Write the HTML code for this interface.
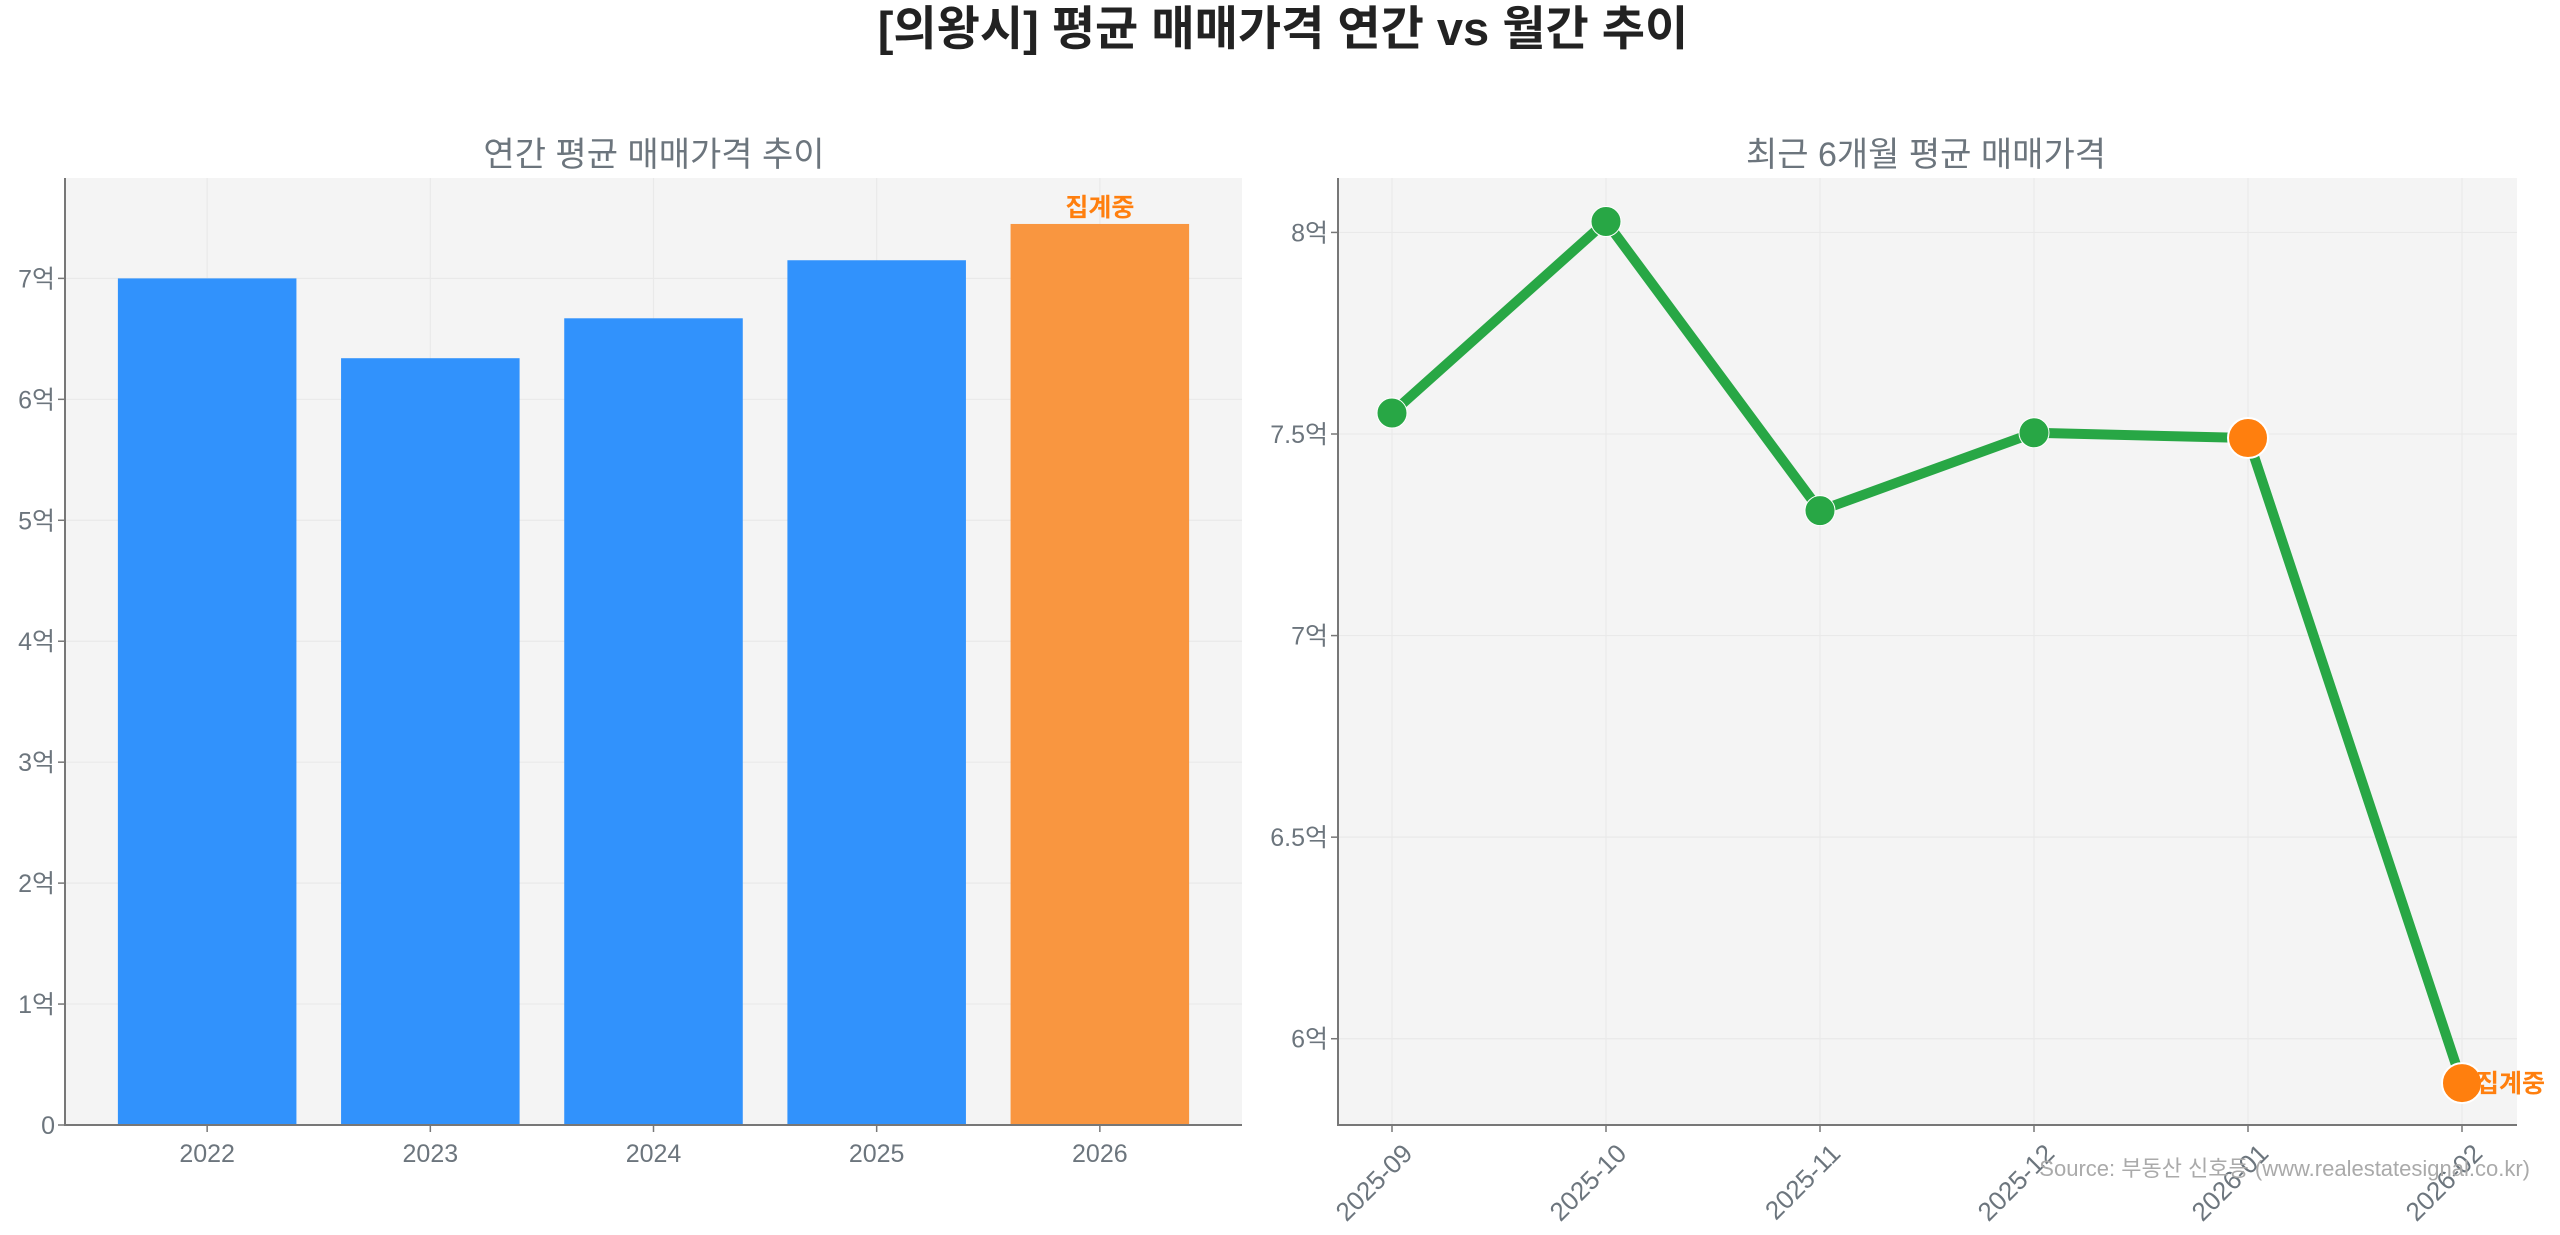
<!DOCTYPE html>
<html><head><meta charset="utf-8"><style>
html,body{margin:0;padding:0;background:#fff;}
svg{display:block;font-family:"Liberation Sans","Noto Sans CJK KR",sans-serif;}
</style></head><body>
<svg id="c" width="2560" height="1235" xmlns="http://www.w3.org/2000/svg">
<text x="1283" y="45" text-anchor="middle" font-size="47" font-weight="bold" fill="#222">[의왕시] 평균 매매가격 연간 vs 월간 추이</text>
<text x="654" y="166" text-anchor="middle" font-size="34" fill="#6c757d">연간 평균 매매가격 추이</text>
<text x="1926" y="166" text-anchor="middle" font-size="34" fill="#6c757d">최근 6개월 평균 매매가격</text>
<g id="left"></g>
<g id="right"></g>
<text x="2530" y="1176" text-anchor="end" font-size="22" fill="#aaa">Source: 부동산 신호등 (www.realestatesignal.co.kr)</text>
</svg>
<script>
const years = ['2022','2023','2024','2025','2026'];
const annualValues = [7.0, 6.34, 6.67, 7.15, 7.45];
const annualTicks = [0,1,2,3,4,5,6,7];
const months = ['2025-09','2025-10','2025-11','2025-12','2026-01','2026-02'];
const monthlyValues = [7.552, 8.027, 7.31, 7.503, 7.49, 5.89];
const monthlyTicks = [6, 6.5, 7, 7.5, 8];
const monthlyTickLabels = ['6억','6.5억','7억','7.5억','8억'];

const NS='http://www.w3.org/2000/svg';
const GRID='#e9e9e9';
function mk(tag, attrs, parent, text){
  const e=document.createElementNS(NS,tag);
  for(const k in attrs) e.setAttribute(k,attrs[k]);
  if(text!==undefined) e.textContent=text;
  parent.appendChild(e); return e;
}
(function(){
  const g=document.getElementById('left');
  const L=65,R=1242,T=178,B=1125;
  const x=i=>L+(i+0.637)/5.274*(R-L);
  const y=v=>B-v/7.83*(B-T);
  const bg=mk('rect',{x:L,y:T,width:R-L,height:B-T,fill:'#f4f4f4'},g);
  
  
  annualTicks.forEach(t=>{
    const gl=mk('line',{x1:L,x2:R,y1:y(t),y2:y(t),stroke:GRID,'stroke-width':1.2},g);
    
    
    const tk=mk('line',{x1:L-7,x2:L,y1:y(t),y2:y(t),stroke:'#777','stroke-width':1.5},g);
    
    
    const lb=mk('text',{x:L-10,y:y(t)+9,'text-anchor':'end','font-size':25,fill:'#6c757d'},g,t===0?'0':t+'억');
    
    
  });
  years.forEach((yr,i)=>{
    const gl=mk('line',{x1:x(i),x2:x(i),y1:T,y2:B,stroke:GRID,'stroke-width':1.2},g);
    
    
  });
  const bw=0.8/5.274*(R-L);
  annualValues.forEach((v,i)=>{
    const last=i===annualValues.length-1;
    const b=mk('rect',{x:x(i)-bw/2,y:y(v),width:bw,height:B-y(v),fill:last?'#f99640':'#3192fc'},g);
    
    
    if(last){
      const a=mk('text',{x:x(i),y:y(v)-8,'text-anchor':'middle','font-size':25,'font-weight':'bold',fill:'#ff7f0e'},g,'집계중');
      
      
    }
    const tk=mk('line',{x1:x(i),x2:x(i),y1:B,y2:B+7,stroke:'#777','stroke-width':1.5},g);
    
    
    const lb=mk('text',{x:x(i),y:B+37,'text-anchor':'middle','font-size':25,fill:'#6c757d'},g,years[i]);
    
    
  });
  const ax=mk('path',{d:`M${L},${T}V${B}H${R}`,fill:'none',stroke:'#777','stroke-width':2},g);
  
  
})();
(function(){
  const g=document.getElementById('right');
  const L=1338,R=2517,T=178,B=1125;
  const x=i=>1392+i*214;
  const ymin=5.786,ymax=8.135;
  const y=v=>B-(v-ymin)/(ymax-ymin)*(B-T);
  const bg=mk('rect',{x:L,y:T,width:R-L,height:B-T,fill:'#f4f4f4'},g);
  
  
  monthlyTicks.forEach((t,k)=>{
    const gl=mk('line',{x1:L,x2:R,y1:y(t),y2:y(t),stroke:GRID,'stroke-width':1.2},g);
    
    
    const tk=mk('line',{x1:L-7,x2:L,y1:y(t),y2:y(t),stroke:'#777','stroke-width':1.5},g);
    
    
    const lb=mk('text',{x:L-10,y:y(t)+9,'text-anchor':'end','font-size':25,fill:'#6c757d'},g,monthlyTickLabels[k]);
    
    
  });
  months.forEach((m,i)=>{
    const gl=mk('line',{x1:x(i),x2:x(i),y1:T,y2:B,stroke:GRID,'stroke-width':1.2},g);
    
    
    const tk=mk('line',{x1:x(i),x2:x(i),y1:B,y2:B+7,stroke:'#777','stroke-width':1.5},g);
    
    
    const ax0=x(i)+22, ay0=B+30;
    const lb=mk('text',{x:ax0,y:ay0,'text-anchor':'end','font-size':26,fill:'#6c757d',transform:`rotate(-45 ${ax0} ${ay0})`},g,m);
    
    
  });
  const pts=monthlyValues.map((v,i)=>x(i)+','+y(v)).join(' ');
  const ln=mk('polyline',{points:pts,fill:'none',stroke:'#28a745','stroke-width':10,'stroke-linejoin':'round'},g);
  
  
  monthlyValues.forEach((v,i)=>{
    const hi=i>=monthlyValues.length-2;
    const c=mk('circle',{cx:x(i),cy:y(v),r:hi?20:15,fill:hi?'#ff7f0e':'#28a745',stroke:'#fff','stroke-width':hi?2:1},g);
    
    
  });
  const li=monthlyValues.length-1;
  const a=mk('text',{x:x(li)+14,y:y(monthlyValues[li])+9,'font-size':25,'font-weight':'bold',fill:'#ff7f0e'},g,'집계중');
  
  
  const ax=mk('path',{d:`M${L},${T}V${B}H${R}`,fill:'none',stroke:'#777','stroke-width':2},g);
  
  
})();
</script>
</body></html>
